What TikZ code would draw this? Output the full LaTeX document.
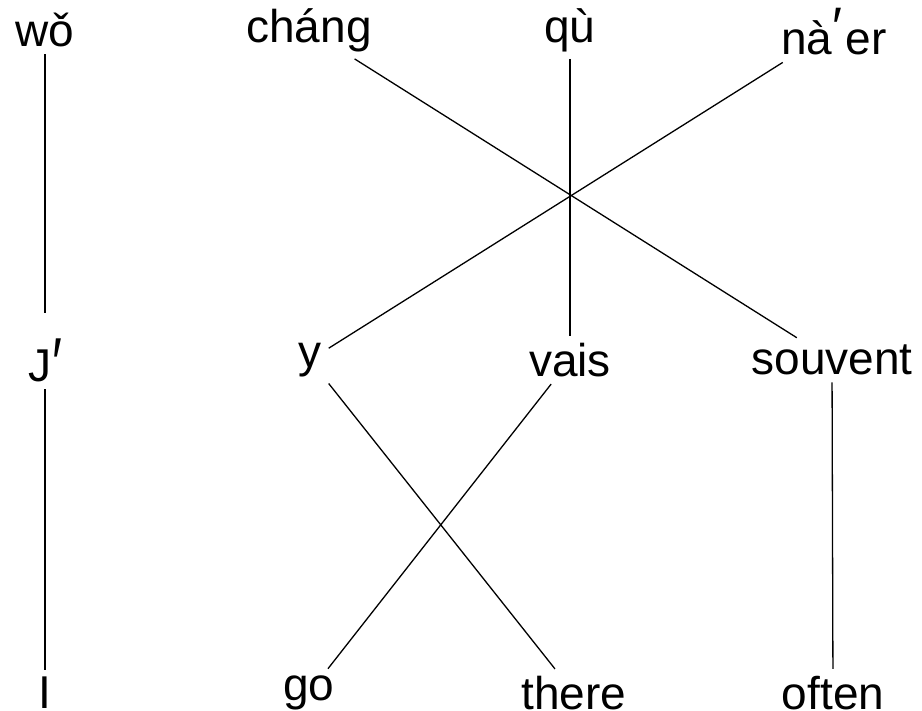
\documentclass[tikz,border=0pt]{standalone}
\usepackage{fontspec}
\setmainfont{Liberation Sans}
% prime mark: lowered/raised by #1, declared height #2, stretched vertically by #3
\newcommand{\primeat}[3]{\raisebox{#1}[#2][0pt]{\scalebox{1.15}[#3]{′}}}
\begin{document}
\begin{tikzpicture}[x=1pt,y=-1pt,
  word/.style={font=\fontsize{46}{50}\selectfont, inner sep=7pt},
  link/.style={line width=1.3pt}]
\useasboundingbox (0,0) rectangle (922,711);
\clip (0,0) rectangle (922,711);

% top row
\node[word] (wo)    at (45,30)  {wǒ};
\node[word] (chang) at (309,30) {cháng};
\node[word] (qu)    at (570,30) {qù};
\node[word] (naer)  at (834,30) {nà\hspace{0.5pt}\primeat{8.6pt}{50pt}{1.21}\hspace{3pt}er};

% middle row
\node[word] (J)       at (45,351)  {J\hspace{1pt}\primeat{-7pt}{62pt}{1.57}};
\node[word] (y)       at (310,360) {y};
\node[word] (vais)    at (570,360) {vais};
\node[word] (souvent) at (832,360) {souvent};

% bottom row
\node[word] (I)     at (45,693)  {I};
\node[word] (go)    at (309,693) {go};
\node[word] (there) at (574,693) {there};
\node[word] (often) at (833,693) {often};

% alignment links
\draw[link] (wo) -- (J);
\draw[link] (J) -- (I);
\draw[link] (chang) -- (souvent);
\draw[link] (qu) -- (vais);
\draw[link] (naer) -- (y);
\draw[link] (y) -- (there);
\draw[link] (vais) -- (go);
\draw[link] (souvent) -- (often);
\end{tikzpicture}
\end{document}
